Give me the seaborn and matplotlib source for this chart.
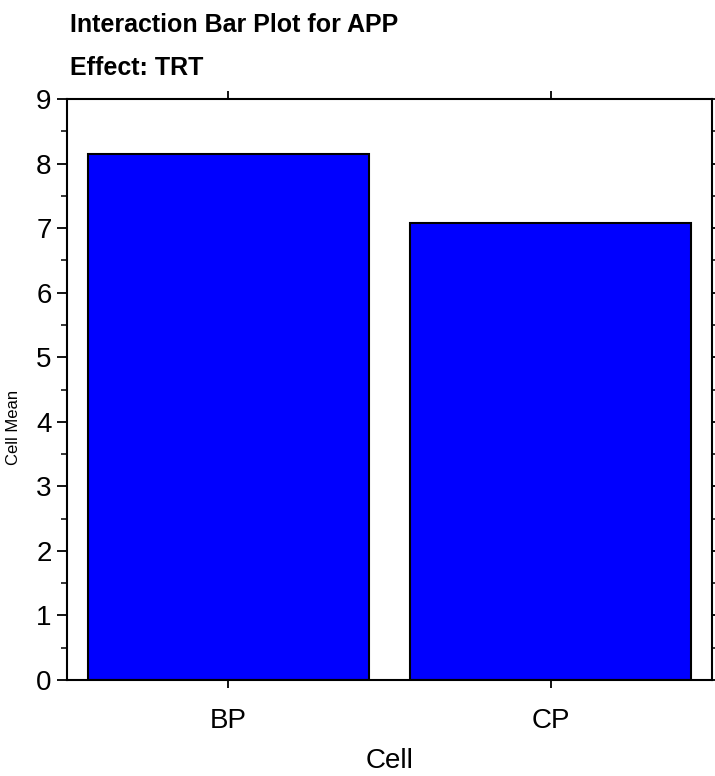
import matplotlib
matplotlib.use("Agg")
import matplotlib.pyplot as plt
from matplotlib.ticker import MultipleLocator
import seaborn as sns
import pandas as pd

categories = ["BP", "CP"]
cell_means = [8.15, 7.08]
y_ticks = [0, 1, 2, 3, 4, 5, 6, 7, 8, 9]

sns.set_theme(style="white")
FONT = ["Liberation Sans Narrow", "Liberation Sans", "DejaVu Sans"]
plt.rcParams["font.family"] = FONT
plt.rcParams["text.color"] = "black"
plt.rcParams["axes.labelcolor"] = "black"

df = pd.DataFrame({"Cell": categories, "Cell Mean": cell_means})

fig = plt.figure(figsize=(7.15, 7.76), dpi=100)
ax = fig.add_axes([67/715, 1 - 680/776, (712-67)/715, (680-99)/776])

sns.barplot(data=df, x="Cell", y="Cell Mean", color="#0000FF", saturation=1,
            width=0.87, edgecolor="black", linewidth=1.5, ax=ax)

ax.set_xlim(-0.5, 1.5)
ax.set_ylim(0, 9)
ax.set_yticks(y_ticks)
ax.yaxis.set_minor_locator(MultipleLocator(0.5))
for s in ax.spines.values():
    s.set_visible(True)
    s.set_color("black")
    s.set_linewidth(1.5)

ax.tick_params(axis="y", which="major", direction="out", length=7, width=1.3,
               left=True, right=True, labelsize=20, colors="black", pad=4)
ax.tick_params(axis="y", which="minor", direction="out", length=4, width=1.3,
               left=True, right=True)
ax.tick_params(axis="x", which="major", direction="out", length=6, width=1.3,
               bottom=True, top=True, labelsize=20, colors="black", pad=14)
ax.set_xlabel("Cell", fontsize=20, labelpad=10, color="black")
ax.set_ylabel("Cell Mean", fontsize=12, color="black")
ax.yaxis.set_label_coords(-0.072, 0.435)

fig.text(70/715, 1 - 32/776, "Interaction Bar Plot for APP", fontsize=18,
         fontweight="bold", ha="left", va="baseline", color="black")
fig.text(70/715, 1 - 75/776, "Effect: TRT", fontsize=18,
         fontweight="bold", ha="left", va="baseline", color="black")

fig.savefig("out.png", dpi=100)
